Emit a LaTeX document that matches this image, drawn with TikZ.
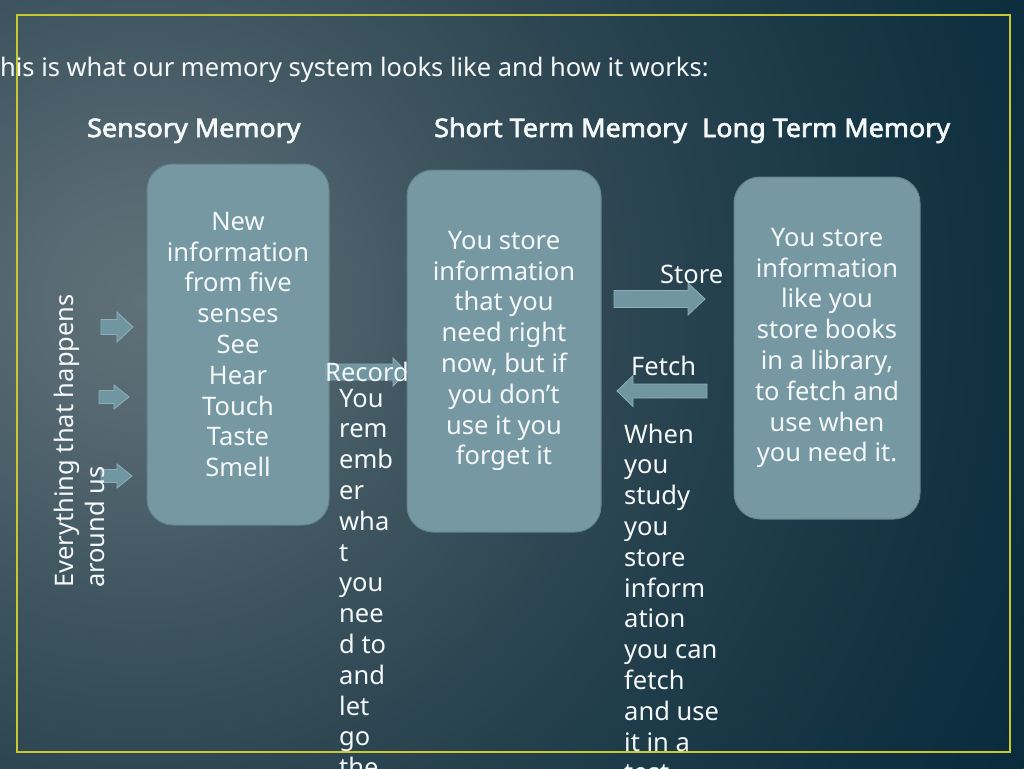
\documentclass[tikz,border=0pt]{standalone}
\usepackage{fontspec}
\setmainfont{Noto Sans}
\newfontfamily\headfont{Noto Sans}[FakeBold=2.6, FakeStretch=1.055]
\definecolor{bgA}{RGB}{95,112,120}
\definecolor{bgB}{RGB}{86,104,113}
\definecolor{bgC}{RGB}{65,88,98}
\definecolor{bgD}{RGB}{45,70,82}
\definecolor{bgE}{RGB}{28,58,72}
\definecolor{bgF}{RGB}{12,46,62}
\definecolor{bgG}{RGB}{4,40,57}
\definecolor{bgH}{RGB}{3,38,55}
\definecolor{boxfill}{RGB}{117,152,162}
\definecolor{boxedge}{RGB}{98,132,143}
\definecolor{arrfill}{RGB}{112,150,162}
\definecolor{arredge}{RGB}{140,175,186}
\definecolor{txt}{RGB}{245,248,248}
\definecolor{frameY}{RGB}{200,200,50}
\pgfdeclareradialshading{bgshade}{\pgfpointorigin}{color(0bp)=(bgA); color(3bp)=(bgB); color(7bp)=(bgC); color(12bp)=(bgD); color(17bp)=(bgE); color(23bp)=(bgF); color(29bp)=(bgG); color(50bp)=(bgH)}
\newcommand\barrow[6]{\filldraw[blockarrow] (#1,#4-#5) -- (#2,#4-#5) -- (#2,#4-#6) -- (#3,#4) -- (#2,#4+#6) -- (#2,#4+#5) -- (#1,#4+#5) -- cycle;}
\begin{document}
\begin{tikzpicture}[x=1pt,y=-1pt,
  plain/.style={inner sep=0pt, text=txt, font=\fontsize{25.5}{30.8}\selectfont},
  headtxt/.style={plain, font=\headfont\fontsize{25.5}{30.8}\selectfont},
  memorybox/.style={plain, align=center, fill=boxfill, draw=boxedge, line width=1pt, rounded corners=26pt},
  blockarrow/.style={fill=arrfill, draw=arredge, line width=0.8pt}]
\useasboundingbox (0,0) rectangle (1024,768);
\clip (0,0) rectangle (1024,768);
\fill[bgH] (0,0) rectangle (1024,768);
\shade[shading=bgshade] (140,300) circle (1000pt);
\draw[frameY, line width=2pt] (16.5,15.5) rectangle (1009.5,752);

\node[plain, anchor=base west] (title) at (-14.3,76) {This is what our memory system looks like and how it works:};
\node[headtxt, anchor=base west] (hsens) at (87,137) {Sensory Memory};
\node[headtxt, anchor=base west] (hshort) at (434,137) {Short Term Memory};
\node[headtxt, anchor=base west] (hlong) at (702,137) {Long Term Memory};

\node[memorybox, minimum width=182pt, minimum height=361pt] (sens) at (238,344.5)
  {New\\information\\from five\\senses\\See\\Hear\\Touch\\Taste\\Smell};
\node[memorybox, minimum width=194pt, minimum height=362pt] (short) at (504,351)
  {You store\\information\\that you\\need right\\now, but if\\you don’t\\use it you\\forget it};
\node[memorybox, minimum width=186pt, minimum height=342pt] (long) at (827,348)
  {You store\\information\\like you\\store books\\in a library,\\to fetch and\\use when\\you need it.};

\barrow{101}{117}{133}{327}{7.5}{15}
\barrow{99}{114}{129}{397}{6.5}{12}
\barrow{101}{117}{132}{476}{6.5}{12}
\barrow{326}{393}{407}{372}{8}{14}
\barrow{614}{688}{705}{299}{8.5}{16}
\barrow{707}{633}{617}{391}{7}{15.5}

\node[plain, rotate=90, anchor=base west, align=left] (env) at (104.3,588) {Everything that happens\\around us};
\node[plain, anchor=base west] (lrec) at (325,381) {Record};
\node[plain, anchor=base west] (lstore) at (660,283) {Store};
\node[plain, anchor=base west] (lfetch) at (631,375) {Fetch};
\node[plain, anchor=base west, align=left] (rem) at (339,776.6)
  {You\\rem\\emb\\er\\wha\\t\\you\\nee\\d to\\and\\let\\go\\the};
\node[plain, anchor=base west, align=left] (study) at (624,781.8)
  {When\\you\\study\\you\\store\\inform\\ation\\you can\\fetch\\and use\\it in a\\test};
\end{tikzpicture}
\end{document}
